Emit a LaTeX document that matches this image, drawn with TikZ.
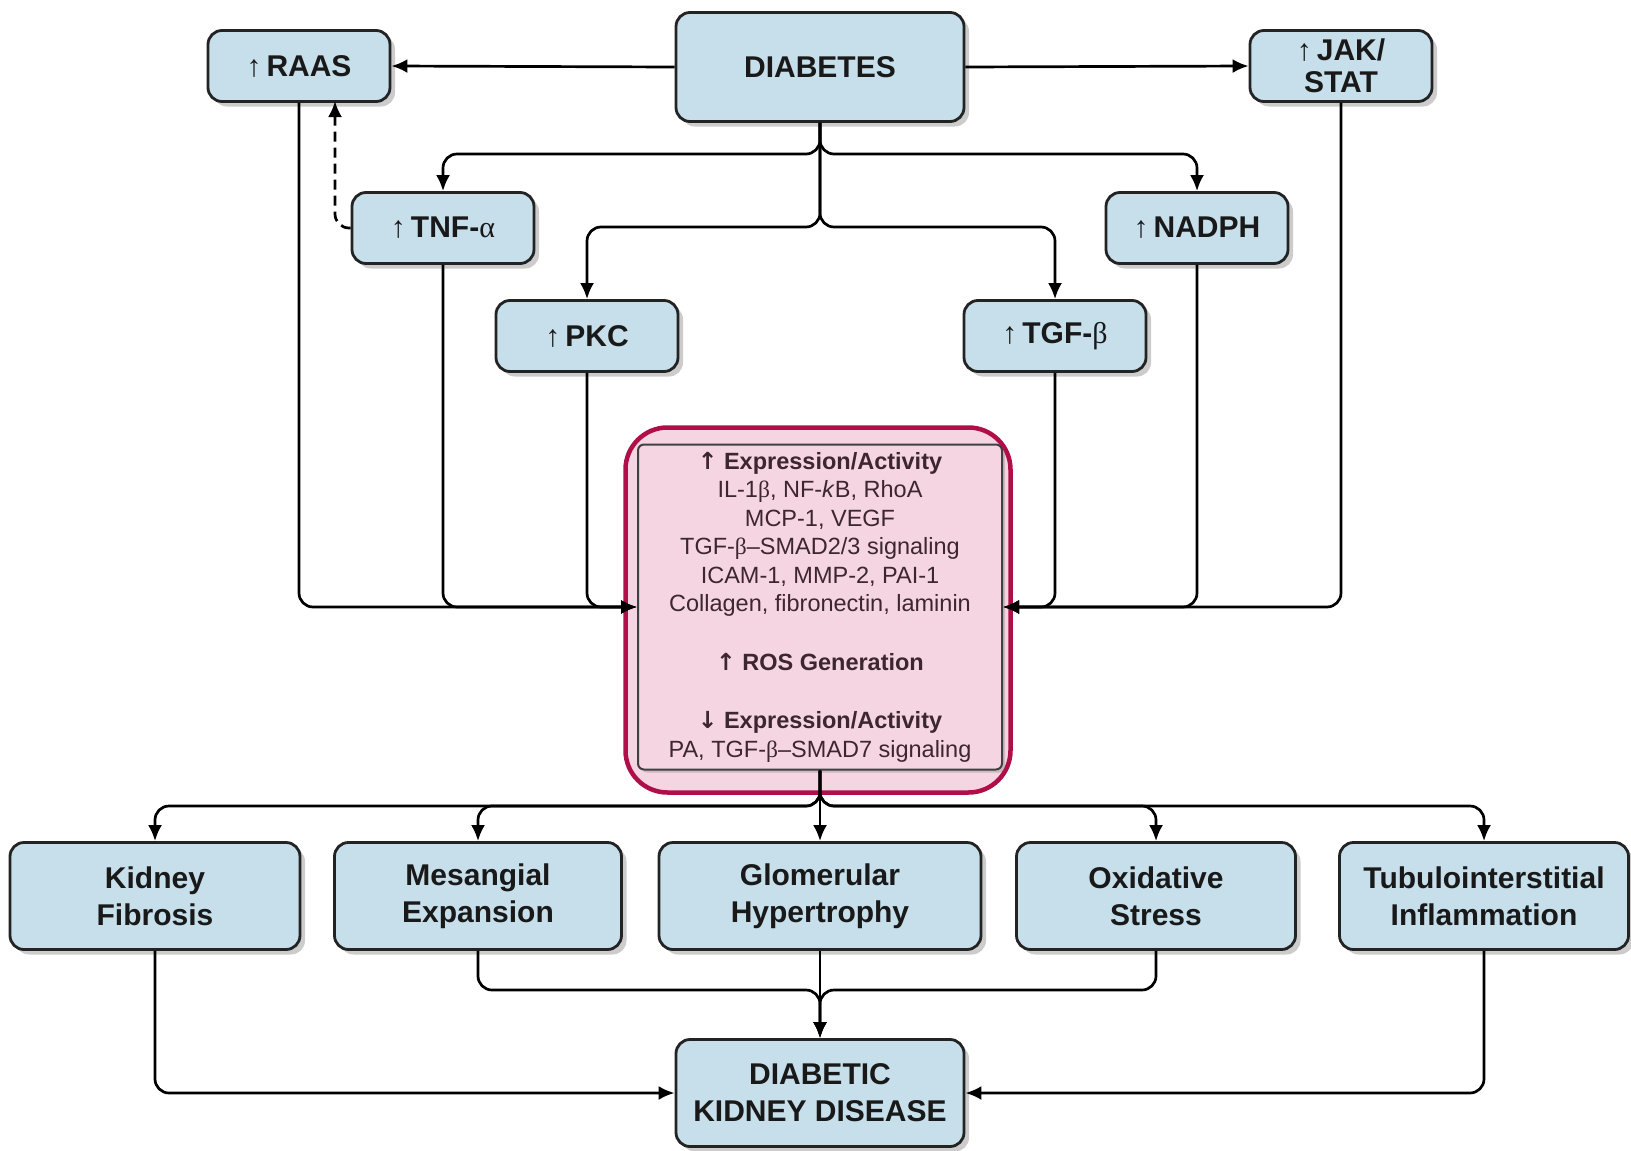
\documentclass[tikz,border=0pt]{standalone}
\usepackage{fontspec}
\setmainfont{Liberation Sans}
\newfontfamily\grkfont{Liberation Serif}
\newfontfamily\arrfont{DejaVu Sans}
\usetikzlibrary{positioning, arrows.meta, shadows}
\definecolor{boxblue}{RGB}{198,223,234}
\definecolor{boxline}{RGB}{35,35,35}
\definecolor{pinkfill}{RGB}{246,213,227}
\definecolor{crimson}{RGB}{176,14,72}
\definecolor{pinktext}{RGB}{60,38,48}
\newcommand{\upmark}{{\mdseries ↑}\,}
\newcommand{\galpha}{{\grkfont\mdseries α}}
\newcommand{\gbeta}{{\grkfont\mdseries β}}
\tikzset{
>={Latex[length=16pt,width=14pt]}, % filled triangle heads
x=1pt, y=-1pt, % one unit is one pixel of the sketch, y runs down
box/.style={draw=boxline, line width=2.8pt, rounded corners=14pt, fill=boxblue, text=black!90, align=center, font=\fontsize{30}{37}\selectfont\bfseries, drop shadow={shadow xshift=5pt, shadow yshift=-5pt, opacity=.4}}, % the blue boxes
smallbox/.style={box, inner sep=2pt, minimum width=182pt, minimum height=71pt}, % top boxes
link/.style={line width=2.7pt, rounded corners=14pt}, % the connectors
}

\begin{document}
\begin{tikzpicture}
    \useasboundingbox (0,0) rectangle (1631,1151);
    % top row
    \node[box, minimum width=288pt, minimum height=109pt] (diab) at (820,67) {DIABETES};
    \node[smallbox] (raas) at (299,66) {\upmark RAAS};
    \node[smallbox] (jak) at (1341,66) {\upmark JAK/\\[-5pt]STAT};
    \node[smallbox] (tnf) at (443,228) {\upmark TNF-\galpha};
    \node[smallbox] (nadph) at (1197,228) {\upmark NADPH};
    \node[smallbox] (pkc) at (587,336) {\upmark PKC};
    \node[smallbox] (tgf) at (1055,336) {\upmark TGF-\gbeta};
    % the pink block
    \node[draw=crimson, line width=4.5pt, rounded corners=42pt, fill=pinkfill, minimum width=385pt, minimum height=365pt] (frame) at (818,610) {};
    \node[draw=black!75, line width=2pt, rounded corners=6pt, fill=pinkfill, text=pinktext, align=center, minimum width=364pt, minimum height=325pt, font=\fontsize{23.5}{28.5}\selectfont, drop shadow={shadow xshift=3pt, shadow yshift=-3pt, opacity=.35}] (expr) at (820,607) {%
      \textbf{{\arrfont ↑} Expression/Activity}\\
      IL-1\gbeta, NF-\textit{k}B, RhoA\\
      MCP-1, VEGF\\
      TGF-\gbeta–SMAD2/3 signaling\\
      ICAM-1, MMP-2, PAI-1\\
      Collagen, fibronectin, laminin\\[30pt]
      \textbf{{\arrfont ↑} ROS Generation}\\[30pt]
      \textbf{{\arrfont ↓} Expression/Activity}\\
      PA, TGF-\gbeta–SMAD7 signaling};
    % bottom rows
    \node[box, minimum width=290pt, minimum height=107pt] (kf) at (155,896) {Kidney\\Fibrosis};
    \node[box, minimum width=287pt, minimum height=107pt] (me) at (478,896) {Mesangial\\Expansion};
    \node[box, minimum width=322pt, minimum height=107pt] (gh) at (820,896) {Glomerular\\Hypertrophy};
    \node[box, minimum width=279pt, minimum height=107pt] (os) at (1156,896) {Oxidative\\Stress};
    \node[box, minimum width=289pt, minimum height=107pt] (ti) at (1484,896) {Tubulointerstitial\\Inflammation};
    \node[box, minimum width=288pt, minimum height=107pt] (dkd) at (820,1093) {DIABETIC\\KIDNEY DISEASE};
    \coordinate (split1) at (820,154);
    \coordinate (split2) at (820,227);
    \coordinate (split3) at (820,806);
    \coordinate (join) at (820,990);
    \coordinate (raasin) at (335,101);
    \draw[link, ->] (diab.west) -- (raas.east);
    \draw[link, ->] (diab.east) -- (jak.west);
    \draw[link, ->] (diab.south) -- (split1) -| (tnf.north);
    \draw[link, ->] (diab.south) -- (split1) -| (nadph.north);
    \draw[link, ->] (diab.south) -- (split2) -| (pkc.north);
    \draw[link, ->] (diab.south) -- (split2) -| (tgf.north);
    \draw[link, ->, dash pattern=on 10pt off 6pt] (tnf.west) -| (raasin);
    \draw[link, ->] (raas.south) |- (expr.west);
    \draw[link, ->] (tnf.south) |- (expr.west);
    \draw[link, ->] (pkc.south) |- (expr.west);
    \draw[link, ->] (jak.south) |- (expr.east);
    \draw[link, ->] (nadph.south) |- (expr.east);
    \draw[link, ->] (tgf.south) |- (expr.east);
    \draw[link, ->] (expr.south) -- (split3) -| (kf.north);
    \draw[link, ->] (expr.south) -- (split3) -| (me.north);
    \draw[link, ->] (expr.south) -- (gh.north);
    \draw[link, ->] (expr.south) -- (split3) -| (os.north);
    \draw[link, ->] (expr.south) -- (split3) -| (ti.north);
    \draw[link, ->] (me.south) |- (join) -- (dkd.north);
    \draw[link, ->] (os.south) |- (join) -- (dkd.north);
    \draw[link, ->] (gh.south) -- (dkd.north);
    \draw[link, ->] (kf.south) |- (dkd.west);
    \draw[link, ->] (ti.south) |- (dkd.east);
\end{tikzpicture}
\end{document}
